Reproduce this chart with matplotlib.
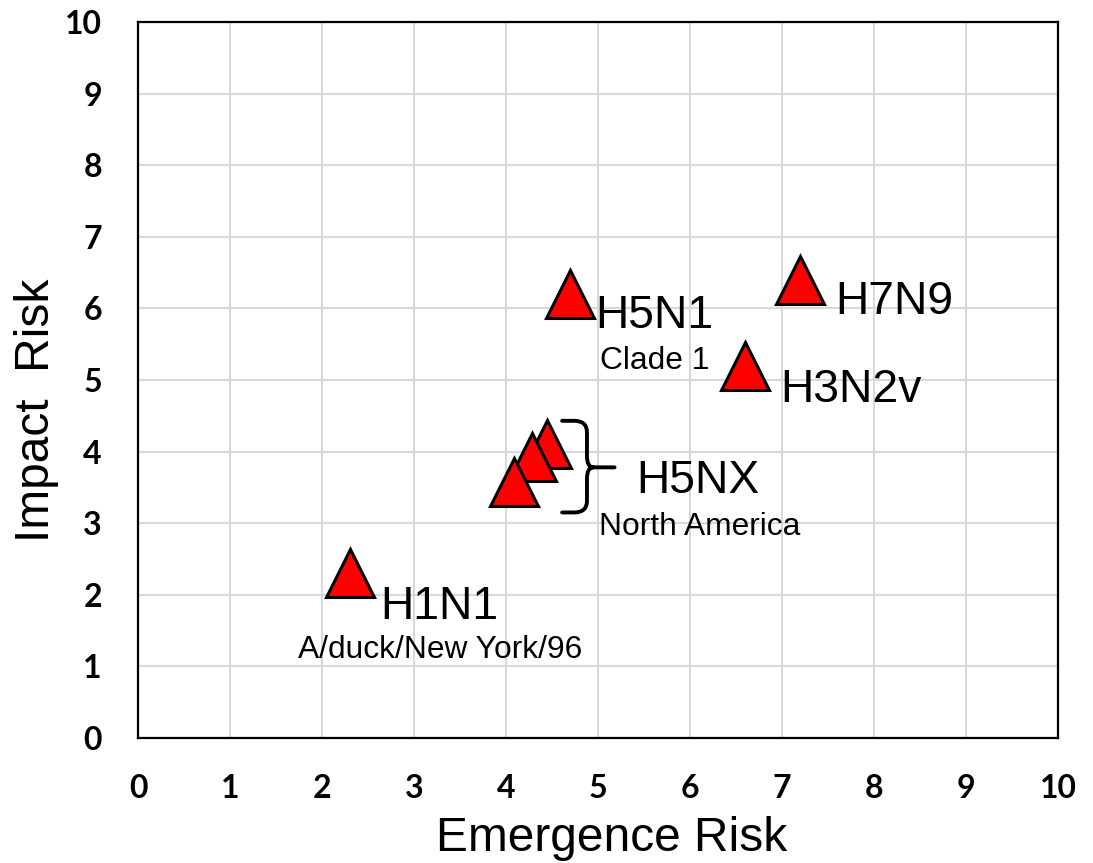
import numpy as np
import matplotlib
matplotlib.use("Agg")
import matplotlib.pyplot as plt
from matplotlib.path import Path
from matplotlib.patches import PathPatch

# ---------------------------------------------------------------------------
# Data
# ---------------------------------------------------------------------------
emergence = [4.70, 7.20, 6.60, 4.45, 4.28, 4.09, 2.30]
impact    = [6.20, 6.40, 5.20, 4.10, 3.92, 3.57, 2.30]

# main labels: (text, x, y baseline)
labels      = ["H5N1", "H7N9", "H3N2v", "H5NX", "H1N1"]
label_x     = [4.97, 7.58, 6.98, 5.42, 2.63]
label_y     = [5.73, 5.92, 4.69, 3.42, 1.66]

sublabels   = ["Clade 1", "North America", "A/duck/New York/96"]
sublabel_x  = [5.02, 5.01, 1.74]
sublabel_y  = [5.15, 2.84, 1.12]

# brace grouping the H5NX points
brace_x = [4.61, 4.88, 5.18]      # arm start, spine, tick end
brace_y = [4.43, 3.78, 3.15]      # top, middle, bottom

ticks = list(range(0, 11))

# ---------------------------------------------------------------------------
# Figure
# ---------------------------------------------------------------------------
W, H, DPI = 1093, 863, 100
fig = plt.figure(figsize=(W / DPI, H / DPI), dpi=DPI)
ax = fig.add_axes([138 / W, 1 - 738 / H, (1058 - 138) / W, (738 - 22) / H])

ax.set_xlim(0, 10)
ax.set_ylim(0, 10)
ax.set_xticks(ticks)
ax.set_yticks(ticks)
ax.grid(True, color="#d9d9d9", linewidth=1.5)
ax.set_axisbelow(True)
for sp in ax.spines.values():
    sp.set_linewidth(1.6)
    sp.set_color("black")

ax.tick_params(length=0, pad=26)
for lab in ax.get_xticklabels() + ax.get_yticklabels():
    lab.set_fontfamily("Lato")
    lab.set_fontweight("bold")
    lab.set_fontsize(23)

ax.set_xlabel("Emergence Risk", fontsize=34.5, family="Liberation Sans", labelpad=9)
ax.set_ylabel("Impact  Risk", fontsize=34.5, family="Liberation Sans", labelpad=4)
ax.xaxis.label.set_x(0.515)
ax.yaxis.label.set_y(0.457)

# markers: draw each so later ones sit on top
for xv, yv in zip(emergence, impact):
    ax.plot(xv, yv, marker="^", markersize=34, markerfacecolor="#ff0000",
            markeredgecolor="black", markeredgewidth=2.2, linestyle="none",
            clip_on=False, zorder=3)

for t, xv, yv in zip(labels, label_x, label_y):
    ax.text(xv, yv, t, fontsize=33.3, family="Liberation Sans",
            ha="left", va="baseline", zorder=4)
for t, xv, yv in zip(sublabels, sublabel_x, sublabel_y):
    ax.text(xv, yv, t, fontsize=22.9, family="Liberation Sans",
            ha="left", va="baseline", zorder=4)

# curly brace
x0, xs, xt = brace_x
yt, ym, yb = brace_y
rx, ry = 0.14, 0.16
verts = [
    (x0, yt), (xs - rx, yt), (xs, yt), (xs, yt - ry),
    (xs, ym + ry), (xs, ym), (xs + rx * 0.5, ym), (xt, ym),
    (xs + rx * 0.5, ym), (xs, ym), (xs, ym - ry),
    (xs, yb + ry), (xs, yb), (xs - rx, yb), (x0, yb),
]
codes = [
    Path.MOVETO, Path.LINETO, Path.CURVE3, Path.CURVE3,
    Path.LINETO, Path.CURVE3, Path.CURVE3, Path.LINETO,
    Path.MOVETO, Path.CURVE3, Path.CURVE3,
    Path.LINETO, Path.CURVE3, Path.CURVE3, Path.LINETO,
]
ax.add_patch(PathPatch(Path(verts, codes), facecolor="none",
                       edgecolor="black", linewidth=2.8, zorder=4,
                       capstyle="round"))

fig.savefig("out.png", dpi=DPI)
